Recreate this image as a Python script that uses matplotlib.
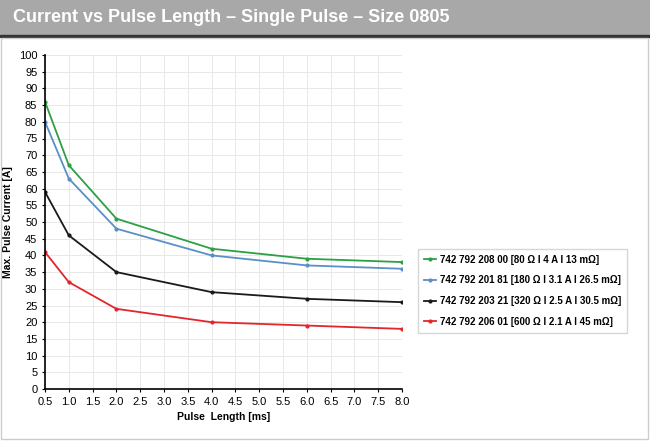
import numpy as np
import matplotlib.pyplot as plt

pulse_ms = [0.5, 1.0, 2.0, 4.0, 6.0, 8.0]
green = [86, 67, 51, 42, 39, 38]
blue = [80, 63, 48, 40, 37, 36]
black = [59, 46, 35, 29, 27, 26]
red = [41, 32, 24, 20, 19, 18]
labels = ["742 792 208 00 [80 Ω I 4 A I 13 mΩ]",
          "742 792 201 81 [180 Ω I 3.1 A I 26.5 mΩ]",
          "742 792 203 21 [320 Ω I 2.5 A I 30.5 mΩ]",
          "742 792 206 01 [600 Ω I 2.1 A I 45 mΩ]"]
colors = ["#2ca043", "#5b8fc7", "#1a1a1a", "#e3262b"]

plt.rcParams['font.family'] = ['Liberation Sans', 'DejaVu Sans']
fig = plt.figure(figsize=(6.5, 4.41), dpi=100)

# header band
fig.patches.append(plt.Rectangle((0, 1 - 35/441), 1, 35/441, transform=fig.transFigure,
                                 color="#a8a8a8", zorder=0))
fig.patches.append(plt.Rectangle((0, 1 - 37/441), 1, 2/441, transform=fig.transFigure,
                                 color="#333333", zorder=0))
fig.patches.append(plt.Rectangle((1/650, 2/441), 647/650, 1 - 40/441, transform=fig.transFigure,
                                 fill=False, edgecolor="#cccccc", lw=1, zorder=0))
fig.text(0.02, 1 - 18/441, "Current vs Pulse Length – Single Pulse – Size 0805",
         color="white", fontsize=13, fontweight="bold", va="center")

ax = fig.add_axes([45/650, 1 - 389/441, 357/650, 334/441])
for ys, c, lab in zip([green, blue, black, red], colors, labels):
    ax.plot(pulse_ms, ys, color=c, lw=1.3, marker="o", ms=2, label=lab)

ax.set_xlim(0.5, 8.0)
ax.set_ylim(0, 100)
ax.set_xticks(np.arange(0.5, 8.01, 0.5))
ax.set_xticklabels([f"{v:.1f}" for v in np.arange(0.5, 8.01, 0.5)])
ax.set_yticks(range(0, 101, 5))
ax.tick_params(labelsize=8, length=2)
ax.grid(color="#e8e8e8", lw=0.7)
for s in ["top", "right"]:
    ax.spines[s].set_visible(False)
ax.spines["left"].set_linewidth(1.2)
ax.spines["bottom"].set_linewidth(1.2)
ax.set_xlabel("Pulse  Length [ms]", fontsize=7.5, fontweight="bold")
ax.set_ylabel("Max. Pulse Current [A]", fontsize=7.5, fontweight="bold")

leg = fig.legend(loc="upper left", bbox_to_anchor=(413/650, 1 - 244/441), fontsize=7,
                 frameon=True, fancybox=False, edgecolor="#cccccc", handlelength=1.3,
                 handletextpad=0.4, labelspacing=1.1, borderpad=0.6)
for t in leg.get_texts():
    t.set_fontweight("bold")

fig.savefig("out.png", dpi=100)
